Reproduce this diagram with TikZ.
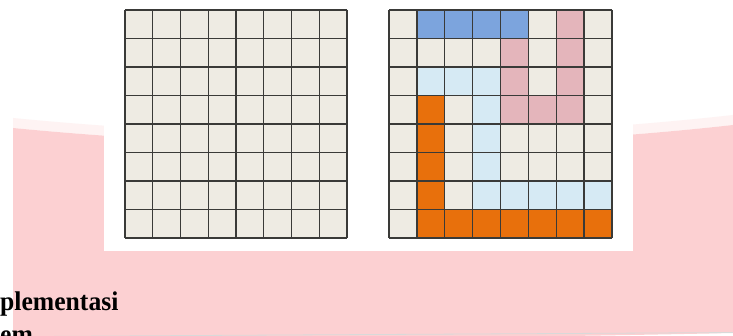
\documentclass[tikz,border=0pt]{standalone}
\usepackage{fontspec}
\setmainfont{Liberation Serif}
\definecolor{pinkbg}{HTML}{FCD0D2}
\definecolor{pinkfade}{HTML}{FEF3F3}
\definecolor{gridline}{HTML}{3A3A38}
\definecolor{cb}{HTML}{EEEBE3}
\definecolor{cB}{HTML}{7CA4DD}
\definecolor{cP}{HTML}{E4B5BB}
\definecolor{cL}{HTML}{D6EAF4}
\definecolor{cO}{HTML}{E8700C}
\begin{document}
\begin{tikzpicture}[x=1pt,y=-1pt,
  gridlinestyle/.style={draw=gridline, line width=1.3pt},
  captiontext/.style={font=\fontsize{27}{32}\selectfont\bfseries, inner sep=0pt, anchor=base west, xscale=0.95}]
\useasboundingbox (0,0) rectangle (733,336);
\fill[white] (0,0) rectangle (733,336);
% soft fade above the pink banner
\fill[pinkfade] (13,118) .. controls (250,141) and (500,141) .. (733,115) -- (733,125) .. controls (500,151) and (250,151) .. (13,128) -- cycle;
% pink banner
\fill[pinkbg] (13,128) .. controls (250,151) and (500,151) .. (733,125) -- (733,333) .. controls (500,338) and (250,340) .. (13,340) -- cycle;
\draw[gray!30, line width=0.8pt] (40,336.5) .. controls (250,335) and (500,334) .. (733,332.5);
% white panel
\fill[white] (104,0) rectangle (633,251);
% left grid
\foreach \r in {0,...,7}{
  \foreach \c in {0,...,7}{
    \fill[cb] (125+\c*27.75,10+\r*28.5) rectangle ++(27.75,28.5);
  }
}
\foreach \i in {0,...,8}{
  \draw[gridlinestyle] (125+\i*27.75,10) -- (125+\i*27.75,238);
  \draw[gridlinestyle] (125,10+\i*28.5) -- (347,10+\i*28.5);
}
% right grid
\foreach \row [count=\r from 0] in {
  {b,B,B,B,B,b,P,b},
  {b,b,b,b,P,b,P,b},
  {b,L,L,L,P,b,P,b},
  {b,O,b,L,P,P,P,b},
  {b,O,b,L,b,b,b,b},
  {b,O,b,L,b,b,b,b},
  {b,O,b,L,L,L,L,L},
  {b,O,O,O,O,O,O,O}}{
  \foreach \col [count=\c from 0] in \row {
    \fill[c\col] (389+\c*27.875,10+\r*28.5) rectangle ++(27.875,28.5);
  }
}
\foreach \i in {0,...,8}{
  \draw[gridlinestyle] (389+\i*27.875,10) -- (389+\i*27.875,238);
  \draw[gridlinestyle] (389,10+\i*28.5) -- (612,10+\i*28.5);
}
% cut-off caption text
\node[captiontext] (cap1) at (0,311) {plementasi};
\node[captiontext] (cap2) at (0,343) {em};
\end{tikzpicture}
\end{document}
